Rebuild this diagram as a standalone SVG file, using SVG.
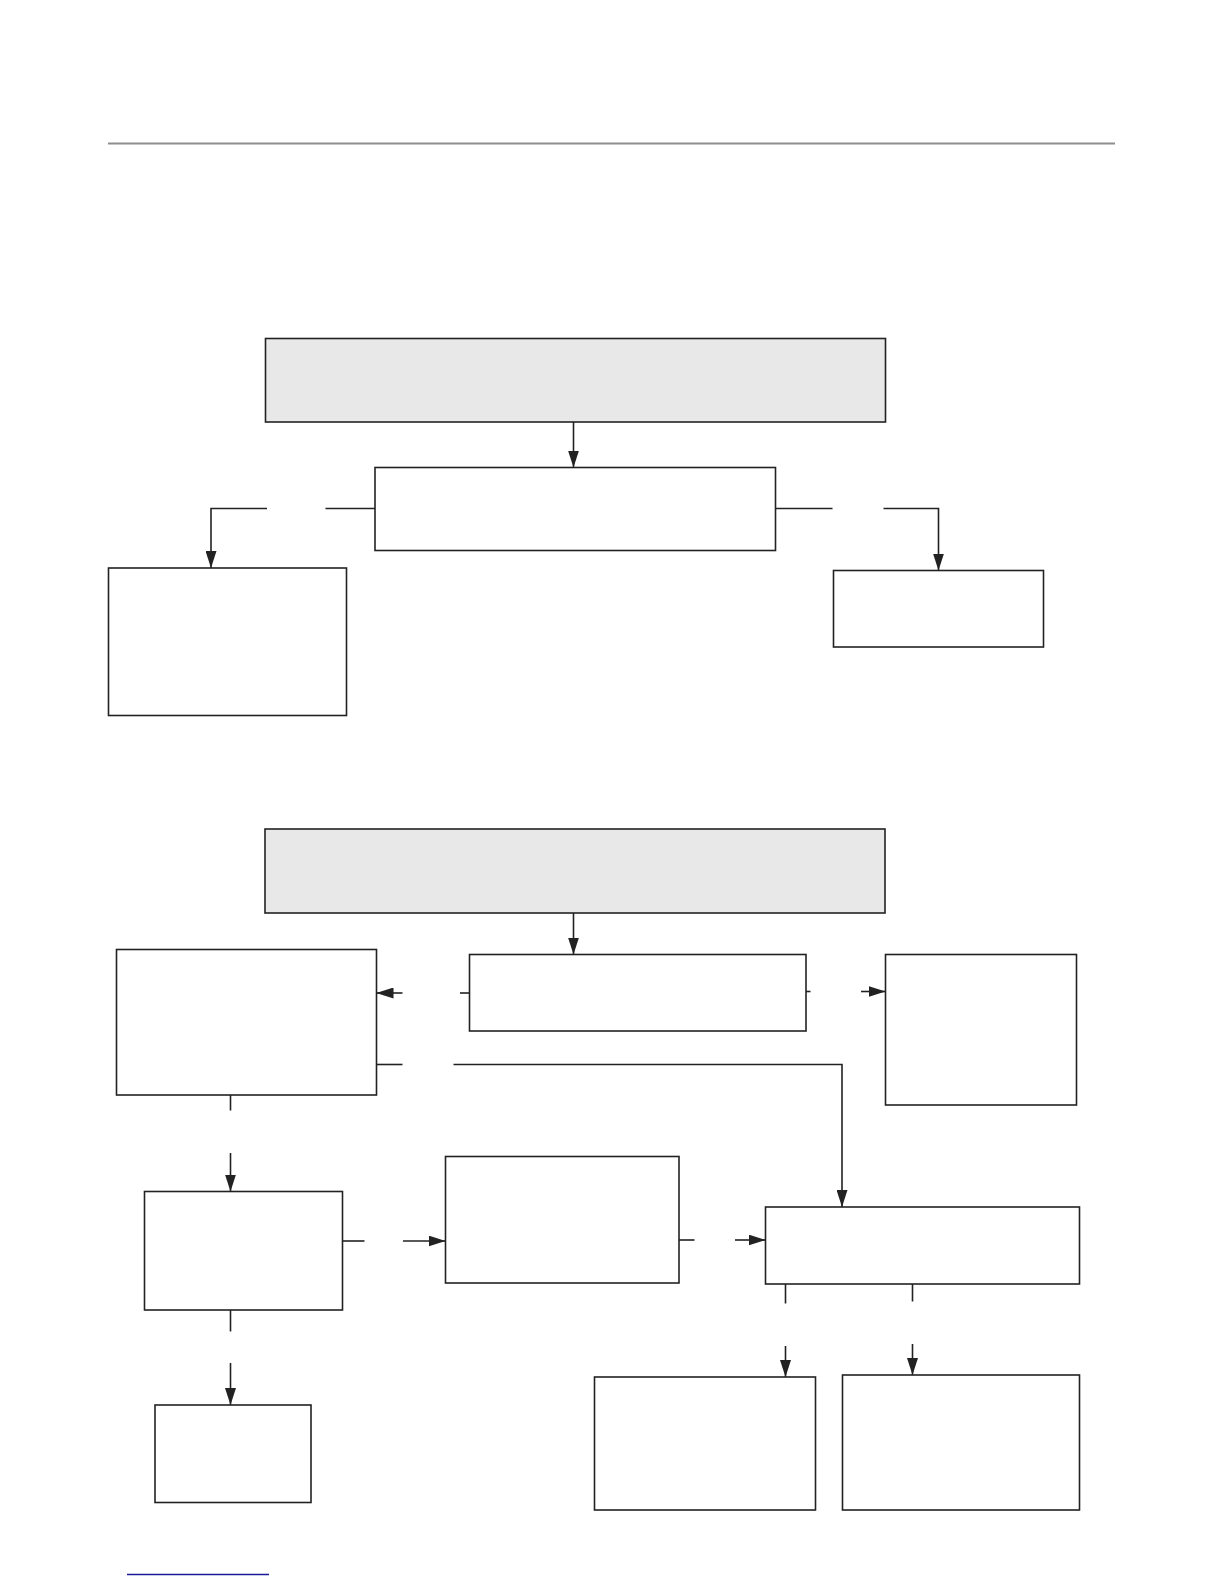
<svg xmlns="http://www.w3.org/2000/svg" width="1224" height="1584" viewBox="0 0 1224 1584">
<style>
.box{fill:#ffffff;stroke:#222222;stroke-width:1.6}
.grey{fill:#e8e8e8;stroke:#222222;stroke-width:1.6}
.ln{fill:none;stroke:#222222;stroke-width:1.6}
</style>
<defs>
<marker id="ah" markerUnits="userSpaceOnUse" markerWidth="17" markerHeight="11" refX="17" refY="5.5" orient="auto" viewBox="0 0 17 11">
<path d="M0,0 L17,5.5 L0,11 Z" fill="#222222"/>
</marker>
</defs>
<rect width="1224" height="1584" fill="#ffffff"/>
<line x1="108" y1="143.5" x2="1115" y2="143.5" stroke="#8e8e8e" stroke-width="2.2"/>
<line x1="127" y1="1574.5" x2="269" y2="1574.5" stroke="#1a1a9a" stroke-width="1.3"/>

<g id="nodeA"><rect class="grey" x="265.5" y="338.5" width="620" height="83.5"/></g>
<g id="nodeB"><rect class="box" x="375" y="467.5" width="400.5" height="83"/></g>
<g id="nodeC"><rect class="box" x="108.5" y="568" width="238" height="147.5"/></g>
<g id="nodeD"><rect class="box" x="833.5" y="570.5" width="210" height="76.5"/></g>

<g id="nodeE"><rect class="grey" x="265" y="829" width="620" height="84"/></g>
<g id="nodeF"><rect class="box" x="469.5" y="954.5" width="336.5" height="76.5"/></g>
<g id="nodeG"><rect class="box" x="116.5" y="949.5" width="260" height="145.5"/></g>
<g id="nodeH"><rect class="box" x="885.5" y="954.5" width="191" height="150.5"/></g>
<g id="nodeI"><rect class="box" x="144.5" y="1191.5" width="198" height="118.5"/></g>
<g id="nodeL"><rect class="box" x="445.5" y="1156.5" width="233.5" height="126.5"/></g>
<g id="nodeK"><rect class="box" x="765.5" y="1207" width="314" height="77"/></g>
<g id="nodeJ"><rect class="box" x="155" y="1405" width="156" height="97.5"/></g>
<g id="nodeM"><rect class="box" x="594.5" y="1377" width="221" height="133"/></g>
<g id="nodeN"><rect class="box" x="842.5" y="1375" width="237" height="135"/></g>

<g id="connectors">
<line class="ln" x1="573.5" y1="422" x2="573.5" y2="467.5" marker-end="url(#ah)"/>
<line class="ln" x1="375" y1="508.5" x2="325.5" y2="508.5"/>
<polyline class="ln" points="267,508.5 211,508.5 211,568" marker-end="url(#ah)"/>
<line class="ln" x1="775.5" y1="508.5" x2="832.5" y2="508.5"/>
<polyline class="ln" points="883.5,508.5 938.5,508.5 938.5,570.5" marker-end="url(#ah)"/>

<line class="ln" x1="573.5" y1="913" x2="573.5" y2="954.5" marker-end="url(#ah)"/>
<line class="ln" x1="469.5" y1="993" x2="460" y2="993"/>
<line class="ln" x1="402.5" y1="993" x2="376.5" y2="993" marker-end="url(#ah)"/>
<line class="ln" x1="806" y1="991.5" x2="810.5" y2="991.5"/>
<line class="ln" x1="861" y1="991.5" x2="885.5" y2="991.5" marker-end="url(#ah)"/>
<line class="ln" x1="376.5" y1="1064.5" x2="402.5" y2="1064.5"/>
<polyline class="ln" points="453.5,1064.5 842,1064.5 842,1207" marker-end="url(#ah)"/>
<line class="ln" x1="230.5" y1="1095" x2="230.5" y2="1110.5"/>
<line class="ln" x1="230.5" y1="1153" x2="230.5" y2="1191.5" marker-end="url(#ah)"/>
<line class="ln" x1="342.5" y1="1241" x2="364.5" y2="1241"/>
<line class="ln" x1="403" y1="1241" x2="445.5" y2="1241" marker-end="url(#ah)"/>
<line class="ln" x1="679" y1="1240" x2="694.5" y2="1240"/>
<line class="ln" x1="735" y1="1240" x2="765.5" y2="1240" marker-end="url(#ah)"/>
<line class="ln" x1="230.5" y1="1310" x2="230.5" y2="1331.5"/>
<line class="ln" x1="230.5" y1="1363" x2="230.5" y2="1405" marker-end="url(#ah)"/>
<line class="ln" x1="785.5" y1="1284" x2="785.5" y2="1303.5"/>
<line class="ln" x1="785.5" y1="1346" x2="785.5" y2="1377" marker-end="url(#ah)"/>
<line class="ln" x1="912.5" y1="1284" x2="912.5" y2="1301.5"/>
<line class="ln" x1="912.5" y1="1344" x2="912.5" y2="1375" marker-end="url(#ah)"/>
</g>
</svg>
